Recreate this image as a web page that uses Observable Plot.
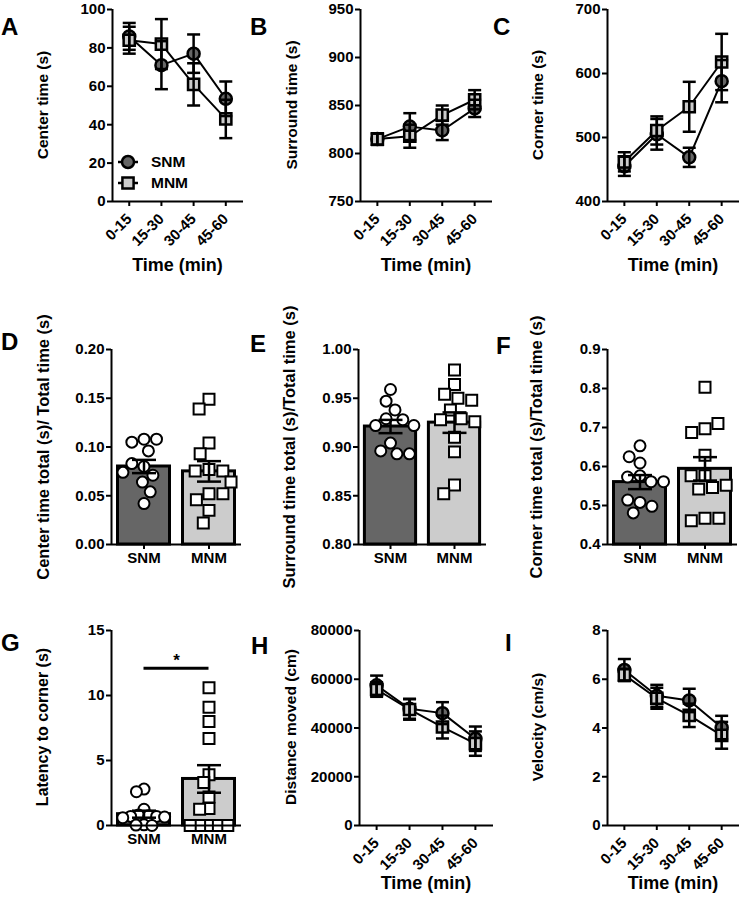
<!DOCTYPE html>
<html>
<head>
<meta charset="utf-8">
<script src="https://cdn.jsdelivr.net/npm/d3@7"></script>
<script src="https://cdn.jsdelivr.net/npm/@observablehq/plot@0.6"></script>
<style>
  body { margin: 0; background: #fff; }
  #fig { position: relative; width: 739px; height: 900px; overflow: hidden; background: #fff;
         font-family: "Liberation Sans", Arial, sans-serif; font-weight: bold; color: #000; }
  .panel { position: absolute; }
  .panel svg { overflow: visible; }
  .letter { position: absolute; font-size: 24px; line-height: 24px; }
  .ytitle { position: absolute; white-space: nowrap; line-height: 1; transform: translate(-50%, -50%) rotate(-90deg); }
  .xtitle { position: absolute; white-space: nowrap; line-height: 1; font-size: 18px; transform: translate(-50%, -50%); }
  .legtext { position: absolute; font-size: 15.5px; line-height: 18px; height: 18px; }
</style>
</head>
<body>
<div id="fig"></div>
<script>
// ---------------- DATA ----------------
const timeBins = ["0-15", "15-30", "30-45", "45-60"];
const groups = ["SNM", "MNM"];

// A: Center time (s)
const centerTimeSNM = [86, 71, 77, 53.5];
const centerTimeSNMsem = [7, 12.5, 10, 9];
const centerTimeMNM = [84, 82, 61, 43];
const centerTimeMNMsem = [7, 13, 11, 10];
const centerTimeTicks = [0, 20, 40, 60, 80, 100];

// B: Surround time (s)
const surroundTimeSNM = [815, 828, 824, 847];
const surroundTimeSNMsem = [6, 14, 10, 9];
const surroundTimeMNM = [815, 818, 840, 856];
const surroundTimeMNMsem = [6, 12, 10, 10];
const surroundTimeTicks = [750, 800, 850, 900, 950];

// C: Corner time (s)
const cornerTimeSNM = [455, 505, 469, 588];
const cornerTimeSNMsem = [15, 24, 15, 33];
const cornerTimeMNM = [462, 511, 548, 618];
const cornerTimeMNMsem = [15, 22, 39, 44];
const cornerTimeTicks = [400, 500, 600, 700];

// D: Center time total / total time
const centerRatioSNM = [0.108, 0.105, 0.108, 0.096, 0.080, 0.083, 0.071, 0.074, 0.064, 0.054, 0.042];
const centerRatioMNM = [0.149, 0.139, 0.104, 0.093, 0.077, 0.0755, 0.0755, 0.064, 0.052, 0.046, 0.052, 0.035, 0.022];
const centerRatioMean = [0.080, 0.075];
const centerRatioSem = [0.0068, 0.0105];
const centerRatioTicks = [0, 0.05, 0.10, 0.15, 0.20];

// E: Surround time total / total time
const surroundRatioSNM = [0.959, 0.947, 0.938, 0.929, 0.928, 0.922, 0.922, 0.904, 0.896, 0.893, 0.893];
const surroundRatioMNM = [0.979, 0.964, 0.954, 0.950, 0.948, 0.938, 0.929, 0.928, 0.926, 0.910, 0.895, 0.861, 0.852];
const surroundRatioMean = [0.921, 0.925];
const surroundRatioSem = [0.0068, 0.0105];
const surroundRatioTicks = [0.80, 0.85, 0.90, 0.95, 1.00];

// F: Corner time total / total time
const cornerRatioSNM = [0.653, 0.609, 0.625, 0.576, 0.573, 0.561, 0.561, 0.508, 0.514, 0.498, 0.481];
const cornerRatioMNM = [0.803, 0.697, 0.687, 0.710, 0.629, 0.576, 0.576, 0.546, 0.552, 0.542, 0.467, 0.461, 0.467];
const cornerRatioMean = [0.560, 0.594];
const cornerRatioSem = [0.018, 0.030];
const cornerRatioTicks = [0.4, 0.5, 0.6, 0.7, 0.8, 0.9];

// G: Latency to corner (s)
const latencySNM = [2.8, 2.6, 1.25, 0.8, 0.75, 0.7, 0.7, 0.65, 0.6, 0.05, 0.03, 0];
const latencyMNM = [10.6, 9.1, 8.0, 6.7, 3.9, 3.3, 2.2, 1.3, 1.25, 0, 0, 0, 0, 0];
const latencyMean = [0.87, 3.58];
const latencySem = [0.27, 1.06];
const latencyTicks = [0, 5, 10, 15];
const latencySignificance = [{y: 12.1, label: "*"}];

// H: Distance moved (cm)
const distanceSNM = [57500, 47900, 46100, 35600];
const distanceSNMsem = [4000, 4100, 4500, 5000];
const distanceMNM = [55800, 47600, 40400, 33600];
const distanceMNMsem = [3000, 4200, 4700, 5000];
const distanceTicks = [0, 20000, 40000, 60000, 80000];

// I: Velocity (cm/s)
const velocitySNM = [6.38, 5.32, 5.13, 4.02];
const velocitySNMsem = [0.45, 0.45, 0.48, 0.48];
const velocityMNM = [6.18, 5.22, 4.52, 3.70];
const velocityMNMsem = [0.25, 0.43, 0.48, 0.55];
const velocityTicks = [0, 2, 4, 6, 8];

// ---------------- HELPERS ----------------
const fig = document.getElementById("fig");
const FONT = '"Liberation Sans", Arial, sans-serif';
const groupFill = {range: ["#666666", "#cccccc"], domain: groups};
const capSymbol = {
  draw(context, size) {
    const w = Math.sqrt(size / Math.PI);
    context.moveTo(-w, 0);
    context.lineTo(w, 0);
  }
};
const svgStyle = {fontFamily: FONT, fontSize: "15px", fontWeight: "bold", color: "#000", background: "none", overflow: "visible"};

function thicken(svg) {
  const s = d3.select(svg);
  s.selectAll('g[aria-label$="axis tick"]').attr("stroke-width", 2);
  s.selectAll('g[aria-label$="-axis"] line, g[aria-label$="-axis"] path').attr("stroke-width", 2);
}

function place(node, left, top, width) {
  const div = document.createElement("div");
  div.className = "panel";
  div.style.left = left + "px";
  div.style.top = top + "px";
  div.style.width = width + "px";
  div.appendChild(node);
  fig.appendChild(div);
}

function addText(cls, text, x, y, size) {
  const div = document.createElement("div");
  div.className = cls;
  div.textContent = text;
  div.style.left = x + "px";
  div.style.top = y + "px";
  if (size) div.style.fontSize = size + "px";
  fig.appendChild(div);
}

function linePanel(cfg) {
  const rows = [];
  groups.forEach((g, gi) => timeBins.forEach((t, i) => {
    rows.push({group: g, t, i, v: cfg.values[gi][i], sem: cfg.sems[gi][i]});
  }));
  const snm = rows.filter(d => d.group === "SNM");
  const mnm = rows.filter(d => d.group === "MNM");
  const xDom = [-0.52, timeBins.length - 1 + 0.55];
  const domain = [cfg.ticks[0], cfg.ticks[cfg.ticks.length - 1]];
  const svg = Plot.plot({
    width: cfg.width, height: cfg.height,
    marginTop: cfg.mt, marginBottom: cfg.mb, marginLeft: cfg.ml, marginRight: cfg.mr,
    style: svgStyle,
    x: {domain: xDom, ticks: timeBins.map((_, i) => i), tickFormat: i => timeBins[i],
        tickRotate: -45, tickSize: 5, tickPadding: 10, label: null},
    y: {domain, ticks: cfg.ticks, tickFormat: cfg.format, tickSize: 5, tickPadding: 2, label: null},
    marks: [
      Plot.ruleY([domain[0]], {strokeWidth: 2}),
      Plot.ruleX([xDom[0]], {strokeWidth: 2}),
      Plot.line(rows, {x: "i", y: "v", z: "group", stroke: "#000", strokeWidth: 2}),
      Plot.dot(snm, {x: "i", y: "v", r: 6, symbol: "circle", fill: "#666666", stroke: "#000", strokeWidth: 2.5}),
      Plot.dot(mnm, {x: "i", y: "v", r: 6.3, symbol: "square", fill: "#cccccc", stroke: "#000", strokeWidth: 2.5}),
      Plot.ruleX(rows, {x: "i", y1: d => d.v - d.sem, y2: d => d.v + d.sem, stroke: "#000", strokeWidth: 2.5}),
      Plot.dot(rows, {x: "i", y: d => d.v + d.sem, symbol: capSymbol, r: 6.5, fill: "none", stroke: "#000", strokeWidth: 2.5}),
      Plot.dot(rows, {x: "i", y: d => d.v - d.sem, symbol: capSymbol, r: 6.5, fill: "none", stroke: "#000", strokeWidth: 2.5})
    ]
  });
  thicken(svg);
  place(svg, cfg.left, cfg.top, cfg.width);
}

function barPanel(cfg) {
  const pts = groups.flatMap((g, gi) => cfg.points[gi].map(v => ({group: g, v})));
  const means = groups.map((g, gi) => ({group: g, mean: cfg.mean[gi], sem: cfg.sem[gi]}));
  const domain = [cfg.ticks[0], cfg.ticks[cfg.ticks.length - 1]];
  const y0 = domain[0];
  const extra = cfg.extra ? cfg.extra() : [];
  const svg = Plot.plot({
    width: cfg.width, height: cfg.height,
    marginTop: cfg.mt, marginBottom: cfg.mb, marginLeft: cfg.ml, marginRight: cfg.mr,
    style: svgStyle,
    fx: {domain: groups, padding: 0, axis: "bottom", label: null, tickSize: 5, tickPadding: 3},
    x: {domain: [-1, 1], axis: null},
    y: {domain, ticks: cfg.ticks, tickFormat: cfg.format, tickSize: 5, tickPadding: 2, label: null},
    color: groupFill,
    marks: [
      Plot.rect(means, {fx: "group", x1: () => -0.8, x2: () => 0.8, y1: () => y0, y2: "mean",
                        fill: "group", stroke: "#000", strokeWidth: 3}),
      Plot.dot(pts.filter(d => d.group === "SNM"),
        Plot.dodgeX({anchor: "middle", padding: cfg.pad},
          {fx: "group", y: "v", r: 5.5, symbol: "circle", fill: "#fff", stroke: "#000", strokeWidth: 2})),
      Plot.dot(pts.filter(d => d.group === "MNM"),
        Plot.dodgeX({anchor: "middle", padding: cfg.pad},
          {fx: "group", y: "v", r: 6.2, symbol: "square", fill: "#fff", stroke: "#000", strokeWidth: 2})),
      Plot.ruleX(means, {fx: "group", x: () => 0, y1: d => d.mean - d.sem, y2: d => d.mean + d.sem,
                         stroke: "#000", strokeWidth: 2.5}),
      Plot.dot(means, {fx: "group", x: () => 0, y: d => d.mean + d.sem, symbol: capSymbol, r: 12,
                       fill: "none", stroke: "#000", strokeWidth: 2.5}),
      Plot.dot(means, {fx: "group", x: () => 0, y: d => d.mean - d.sem, symbol: capSymbol, r: 12,
                       fill: "none", stroke: "#000", strokeWidth: 2.5}),
      Plot.ruleY([y0], {strokeWidth: 2}),
      Plot.ruleX([groups[0]], {fx: d => d, x: () => -1, strokeWidth: 2}),
      ...extra
    ]
  });
  thicken(svg);
  place(svg, cfg.left, cfg.top, cfg.width);
}

// ---------------- ROW 1 ----------------
const row1 = {top: 0, height: 250, mt: 9, mb: 49};
linePanel({...row1, left: 0, width: 245, ml: 112, mr: 2,
  values: [centerTimeSNM, centerTimeMNM], sems: [centerTimeSNMsem, centerTimeMNMsem],
  ticks: centerTimeTicks, format: d3.format("d")});
linePanel({...row1, left: 245, width: 248, ml: 115, mr: 1,
  values: [surroundTimeSNM, surroundTimeMNM], sems: [surroundTimeSNMsem, surroundTimeMNMsem],
  ticks: surroundTimeTicks, format: d3.format("d")});
linePanel({...row1, left: 490, width: 249, ml: 117, mr: 0,
  values: [cornerTimeSNM, cornerTimeMNM], sems: [cornerTimeSNMsem, cornerTimeMNMsem],
  ticks: cornerTimeTicks, format: d3.format("d")});

// ---------------- ROW 2 ----------------
const row2 = {top: 340, height: 240, mt: 9, mb: 36};
barPanel({...row2, left: 0, width: 242, ml: 110, mr: 1, pad: 1.5,
  points: [centerRatioSNM, centerRatioMNM], mean: centerRatioMean, sem: centerRatioSem,
  ticks: centerRatioTicks, format: d3.format(".2f")});
barPanel({...row2, left: 245, width: 245, ml: 113, mr: 4, pad: 1.5,
  points: [surroundRatioSNM, surroundRatioMNM], mean: surroundRatioMean, sem: surroundRatioSem,
  ticks: surroundRatioTicks, format: d3.format(".2f")});
barPanel({...row2, left: 490, width: 249, ml: 116, mr: 2, pad: 1.5,
  points: [cornerRatioSNM, cornerRatioMNM], mean: cornerRatioMean, sem: cornerRatioSem,
  ticks: cornerRatioTicks, format: d3.format(".1f")});

// ---------------- ROW 3 ----------------
const row3 = {top: 620, height: 280, mt: 10, mb: 75};
barPanel({...row3, left: 0, width: 242, ml: 110, mr: 1, pad: -3,
  points: [latencySNM, latencyMNM], mean: latencyMean, sem: latencySem,
  ticks: latencyTicks, format: d3.format("d"),
  extra: () => [
    Plot.ruleY(latencySignificance, {fx: () => groups[0], y: "y", x1: () => 0, x2: () => 1, strokeWidth: 3}),
    Plot.ruleY(latencySignificance, {fx: () => groups[1], y: "y", x1: () => -1, x2: () => 0, strokeWidth: 3}),
    Plot.text(latencySignificance, {fx: () => groups[0], x: () => 1, y: "y", text: "label", dy: -8,
                                    fontSize: 17, fontWeight: "bold"})
  ]});
linePanel({...row3, left: 245, width: 248, ml: 114, mr: 0,
  values: [distanceSNM, distanceMNM], sems: [distanceSNMsem, distanceMNMsem],
  ticks: distanceTicks, format: d3.format("d")});
linePanel({...row3, left: 490, width: 249, ml: 117, mr: 0,
  values: [velocitySNM, velocityMNM], sems: [velocitySNMsem, velocityMNMsem],
  ticks: velocityTicks, format: d3.format("d")});

// ---------------- TEXT: letters & titles ----------------
[["A", 1, 15], ["B", 250, 15], ["C", 493, 15],
 ["D", 1, 330], ["E", 250, 332], ["F", 496, 334],
 ["G", 1, 631], ["H", 251, 634], ["I", 505, 631]].forEach(([t, x, y]) => addText("letter", t, x, y));

addText("ytitle", "Center time (s)", 43, 105, 15.5);
addText("ytitle", "Surround time (s)", 292, 105, 15.5);
addText("ytitle", "Corner time (s)", 538, 105, 15.5);
addText("ytitle", "Center time total (s)/ Total time (s)", 42.5, 447, 16.5);
addText("ytitle", "Surround time total (s)/Total time (s)", 289, 447, 16.5);
addText("ytitle", "Corner time total (s)/Total time (s)", 536, 447, 16.5);
addText("ytitle", "Latency to corner (s)", 43, 727, 16);
addText("ytitle", "Distance moved (cm)", 291, 727, 15.5);
addText("ytitle", "Velocity (cm/s)", 538, 727, 15.5);

addText("xtitle", "Time (min)", 177.5, 265);
addText("xtitle", "Time (min)", 426, 265);
addText("xtitle", "Time (min)", 673, 265);
addText("xtitle", "Time (min)", 426, 883);
addText("xtitle", "Time (min)", 673, 883);

// ---------------- LEGEND (panel A) ----------------
const legendItems = [{group: "SNM", symbol: "circle", fill: "#666666", cy: 161.5},
                     {group: "MNM", symbol: "square", fill: "#cccccc", cy: 183}];
legendItems.forEach(item => {
  const ns = "http://www.w3.org/2000/svg";
  const icon = document.createElementNS(ns, "svg");
  icon.setAttribute("width", 26); icon.setAttribute("height", 18);
  icon.style.position = "absolute";
  icon.style.left = (128.3 - 13) + "px";
  icon.style.top = (item.cy - 9) + "px";
  const line = document.createElementNS(ns, "line");
  line.setAttribute("x1", 3); line.setAttribute("x2", 23);
  line.setAttribute("y1", 9); line.setAttribute("y2", 9);
  line.setAttribute("stroke", "#000"); line.setAttribute("stroke-width", 2.5);
  icon.appendChild(line);
  const path = document.createElementNS(ns, "path");
  const sym = item.symbol === "circle" ? d3.symbolCircle : d3.symbolSquare;
  path.setAttribute("d", d3.symbol(sym, Math.PI * (item.symbol === "circle" ? 36 : 39.7))());
  path.setAttribute("transform", "translate(13,9)");
  path.setAttribute("fill", item.fill); path.setAttribute("stroke", "#000"); path.setAttribute("stroke-width", 2.5);
  icon.appendChild(path);
  fig.appendChild(icon);
  const t = document.createElement("div");
  t.className = "legtext";
  t.textContent = item.group;
  t.style.left = "151px";
  t.style.top = (item.cy - 9) + "px";
  fig.appendChild(t);
});
</script>
</body>
</html>
